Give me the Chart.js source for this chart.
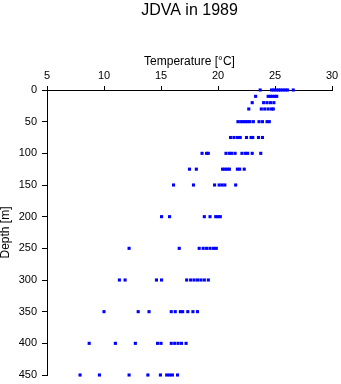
<!DOCTYPE html>
<html>
<head>
<meta charset="utf-8">
<title>JDVA in 1989</title>
<script src="https://cdn.jsdelivr.net/npm/chart.js@4.4.1/dist/chart.umd.min.js"></script>
<style>
	html, body { margin: 0; padding: 0; background: #fff; }
	#wrap { width: 341px; height: 384px; }
</style>
</head>
<body>
<div id="wrap"><canvas id="myCanvas" width="341" height="384"></canvas></div>
<script>
	// Standard sampling depths [m]
	var depthLevels = [0, 10, 20, 30, 50, 75, 100, 125, 150, 200, 250, 300, 350, 400, 450];

	// Temperatures [°C] measured at each depth
	var temp0   = [23.7, 24.7, 24.9, 25.1, 25.3, 25.5, 25.7, 25.9, 26.1, 26.6];
	var temp10  = [23.3, 24.4, 24.6, 24.8, 25.0, 25.15];
	var temp20  = [23.0, 24.0, 24.3, 24.6, 24.9];
	var temp30  = [22.7, 23.8, 24.1, 24.4, 24.7, 24.85];
	var temp50  = [21.75, 22.0, 22.2, 22.4, 22.6, 22.8, 23.1, 23.6, 23.9, 24.3, 24.5];
	var temp75  = [21.1, 21.4, 21.7, 21.95, 22.5, 22.9, 23.05, 23.55, 23.9];
	var temp100 = [18.6, 19.0, 19.15, 20.7, 21.0, 21.2, 21.5, 22.1, 22.4, 22.6, 23.0, 23.75];
	var temp125 = [17.5, 18.1, 20.4, 20.6, 20.8, 21.0, 21.7, 21.9, 22.3];
	var temp150 = [16.1, 17.85, 19.7, 20.1, 20.35, 20.6, 21.55];
	var temp200 = [15.05, 15.75, 18.8, 19.3, 19.8, 20.0, 20.2];
	var temp250 = [12.2, 16.6, 18.35, 18.7, 19.0, 19.3, 19.6, 19.85];
	var temp300 = [11.35, 11.85, 14.6, 15.05, 17.25, 17.6, 17.9, 18.2, 18.5, 18.8, 19.15];
	var temp350 = [10.0, 13.0, 13.95, 15.9, 16.25, 16.7, 16.9, 17.35, 17.8, 18.2];
	var temp400 = [8.7, 11.0, 12.75, 14.7, 15.0, 15.9, 16.2, 16.5, 16.8, 17.2];
	var temp450 = [7.9, 9.6, 12.2, 13.85, 14.95, 15.5, 15.75, 16.0, 16.45];

	var profiles = [temp0, temp10, temp20, temp30, temp50, temp75, temp100, temp125,
	                temp150, temp200, temp250, temp300, temp350, temp400, temp450];

	// Tick values on both axes
	var tempTicks = [5, 10, 15, 20, 25, 30];
	var depthTicks = [0, 50, 100, 150, 200, 250, 300, 350, 400, 450];

	// flatten into scatter points
	var points = [];
	for (var i = 0; i < depthLevels.length; i++) {
		for (var j = 0; j < profiles[i].length; j++) {
			points.push({ x: profiles[i][j], y: depthLevels[i] });
		}
	}

	Chart.defaults.font.family = '"Liberation Sans", Arial, Helvetica, sans-serif';
	Chart.defaults.color = '#000';

	var ctx = document.getElementById('myCanvas').getContext('2d');
	var myChart = new Chart(ctx, {
		type: 'scatter',
		data: {
			datasets: [{
				data: points,
				backgroundColor: '#0000ff',
				borderWidth: 0,
				pointStyle: 'rect',
				pointRadius: 2.2,
				clip: false   // surface points sit on the top axis
			}]
		},
		options: {
			responsive: false,
			animation: false,
			events: [],
			layout: {
				padding: { top: 0, left: 0, right: 9, bottom: 9 }
			},
			plugins: {
				legend: { display: false },
				tooltip: { enabled: false },
				title: {
					display: true,
					text: 'JDVA in 1989',
					fullSize: false,
					font: { size: 16, weight: 'normal' },
					padding: { top: 0.5, bottom: 0 }
				}
			},
			scales: {
				x: {
					type: 'linear',
					position: 'top',
					min: tempTicks[0],
					max: tempTicks[tempTicks.length - 1],
					afterBuildTicks: function(scale) {
						scale.ticks = tempTicks.map(function(v) { return { value: v }; });
					},
					afterFit: function(scale) {
						// fixed band above the plot; labels may overhang the sides
						scale.height = 70.3;
						scale.paddingLeft = 0;
						scale.paddingRight = 0;
					},
					ticks: {
						font: { size: 11 },
						padding: 3,
						maxRotation: 0
					},
					grid: {
						drawOnChartArea: false,
						drawTicks: true,
						tickLength: 4,
						color: '#000'
					},
					border: { display: true, color: '#000', width: 1 },
					title: {
						display: true,
						text: 'Temperature [°C]',
						font: { size: 12 },
						padding: { top: 34.6, bottom: 0 }
					}
				},
				y: {
					type: 'linear',
					reverse: true,
					min: depthTicks[0],
					max: depthTicks[depthTicks.length - 1],
					afterBuildTicks: function(scale) {
						scale.ticks = depthTicks.map(function(v) { return { value: v }; });
					},
					afterFit: function(scale) {
						scale.width = 47;
						scale.paddingTop = 0;
						scale.paddingBottom = 0;
					},
					ticks: {
						font: { size: 11 },
						padding: 5
					},
					grid: {
						drawOnChartArea: false,
						drawTicks: true,
						tickLength: 5,
						color: '#000'
					},
					border: { display: true, color: '#000', width: 1 },
					title: {
						display: true,
						text: 'Depth [m]',
						font: { size: 12, lineHeight: 1 },
						padding: { top: 0, bottom: 0 }
					}
				}
			}
		}
	});
</script>
</body>
</html>
